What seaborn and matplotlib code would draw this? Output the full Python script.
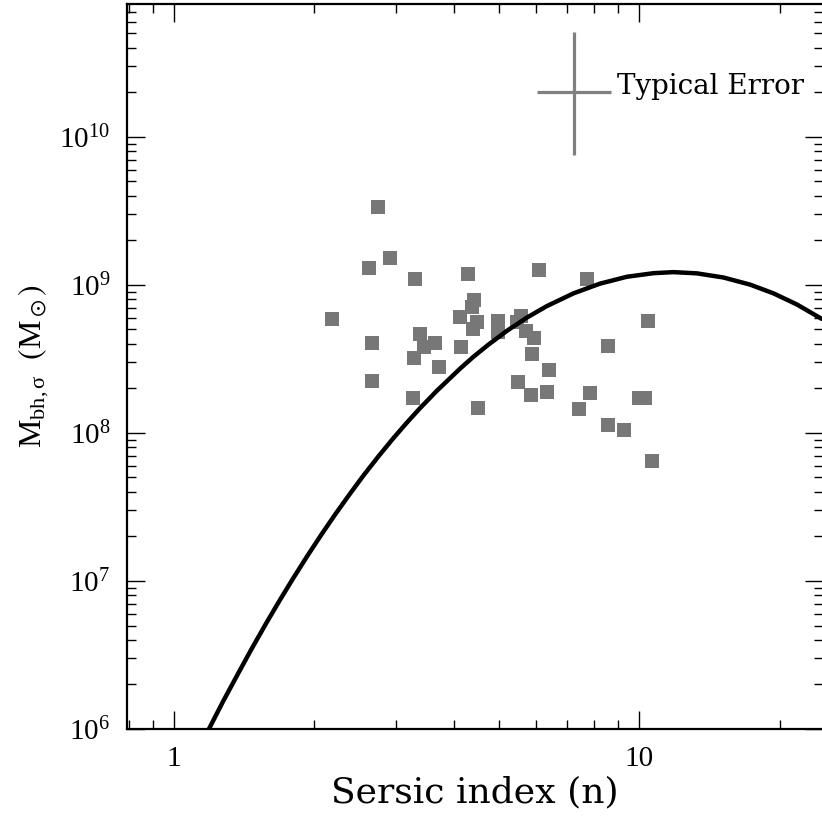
import numpy as np
import pandas as pd
import matplotlib
matplotlib.use("Agg")
import matplotlib.pyplot as plt
import matplotlib.ticker as mticker
import seaborn as sns

# galaxies: Sersic index and sigma-based black hole mass
sersic_n = [2.74, 2.91, 2.63, 3.30, 4.28, 6.08, 7.71, 2.19, 4.41, 4.38, 4.11,
            4.47, 4.39, 4.96, 4.98, 5.45, 5.57, 5.70, 5.93, 5.89, 6.41, 5.48,
            5.86, 6.34, 7.43, 7.83, 8.56, 10.43, 10.0, 10.27, 8.57, 9.28,
            10.64, 4.49, 3.26, 2.67, 2.67, 3.71, 3.28, 3.44, 3.64, 3.38, 4.13]
mbh_sigma = [3.34e9, 1.53e9, 1.31e9, 1.09e9, 1.18e9, 1.27e9, 1.10e9, 5.92e8,
             7.88e8, 7.13e8, 6.11e8, 5.65e8, 5.04e8, 5.74e8, 4.81e8, 5.62e8,
             6.20e8, 4.91e8, 4.41e8, 3.40e8, 2.65e8, 2.22e8, 1.81e8, 1.90e8,
             1.44e8, 1.87e8, 3.85e8, 5.74e8, 1.73e8, 1.73e8, 1.14e8, 1.05e8,
             6.50e7, 1.47e8, 1.73e8, 2.24e8, 4.04e8, 2.79e8, 3.20e8, 3.81e8,
             4.03e8, 4.69e8, 3.79e8]

# relation curve
curve_n = [1.17, 1.195, 1.276, 1.375, 1.469, 1.582, 1.690, 1.805, 1.944, 2.077,
           2.218, 2.389, 2.552, 2.749, 2.960, 3.163, 3.379, 3.668, 4.12, 4.40,
           4.74, 5.19, 5.73, 6.32, 7.22, 8.23, 9.40, 10.72, 11.83, 13.29,
           15.16, 17.30, 19.41, 21.79, 24.66]
curve_m = [9.04e5, 1.03e6, 1.54e6, 2.38e6, 3.48e6, 5.24e6, 7.45e6, 1.045e7,
           1.51e7, 2.07e7, 2.80e7, 3.88e7, 5.14e7, 6.93e7, 9.20e7, 1.17e8,
           1.47e8, 1.92e8, 2.72e8, 3.27e8, 3.95e8, 4.89e8, 6.01e8, 7.18e8,
           8.77e8, 1.02e9, 1.135e9, 1.20e9, 1.22e9, 1.197e9, 1.122e9, 1.004e9,
           8.77e8, 7.38e8, 5.89e8]

# typical error bar
err_n = 7.22
err_m = 2.0e10
err_n_range = (6.02, 8.68)
err_m_range = (7.55e9, 5.14e10)

sns.set_style("ticks")
plt.rcParams['font.family'] = ['DejaVu Serif']
plt.rcParams['mathtext.fontset'] = 'stix'
for key in ['text.color', 'axes.labelcolor', 'xtick.color', 'ytick.color',
            'axes.edgecolor']:
    plt.rcParams[key] = 'black'

fig = plt.figure(figsize=(8.22, 8.19), dpi=100)
ax = fig.add_axes([127/822, 90/819, 696/822, 725/819])

pts = pd.DataFrame({'n': sersic_n, 'm': mbh_sigma})
crv = pd.DataFrame({'n': curve_n, 'm': curve_m})

sns.scatterplot(data=pts, x='n', y='m', marker='s', s=90, color='#777777',
                linewidth=0, ax=ax, zorder=2)
sns.lineplot(data=crv, x='n', y='m', sort=False, estimator=None, color='black',
             linewidth=3.2, ax=ax, zorder=3)

ax.errorbar([err_n], [err_m],
            xerr=[[err_n - err_n_range[0]], [err_n_range[1] - err_n]],
            yerr=[[err_m - err_m_range[0]], [err_m_range[1] - err_m]],
            fmt='none', ecolor='#808080', elinewidth=2.3, capsize=0)
ax.text(8.94, 1.95e10, 'Typical Error', fontsize=20, family='DejaVu Serif',
        ha='left', va='baseline')

ax.set_xscale('log')
ax.set_yscale('log')
ax.set_xlim(0.793, 24.8)
ax.set_ylim(1e6, 7.9e10)

ax.xaxis.set_major_formatter(mticker.FuncFormatter(lambda v, _: f'{v:g}'))
ax.xaxis.set_minor_formatter(mticker.NullFormatter())
ax.yaxis.set_minor_formatter(mticker.NullFormatter())
ax.yaxis.set_minor_locator(mticker.LogLocator(base=10, subs=np.arange(2, 10)))
ax.xaxis.set_minor_locator(mticker.LogLocator(base=10, subs=np.arange(2, 10)))

ax.tick_params(which='both', direction='in', top=True, right=True, width=1.0,
               color='black')
ax.tick_params(which='major', length=13, pad=12, labelsize=21,
               labelfontfamily='Liberation Serif')
ax.tick_params(which='minor', length=6.5)
for sp in ax.spines.values():
    sp.set_linewidth(1.6)
    sp.set_color('black')

ax.set_xlabel('Sersic index (n)', fontsize=26, labelpad=3)
ax.set_ylabel(r'$\mathregular{M_{bh,\sigma}}$  $(\mathregular{M_\odot})$',
              fontsize=23, family='Liberation Serif', labelpad=6)

fig.savefig('out.png', dpi=100)
